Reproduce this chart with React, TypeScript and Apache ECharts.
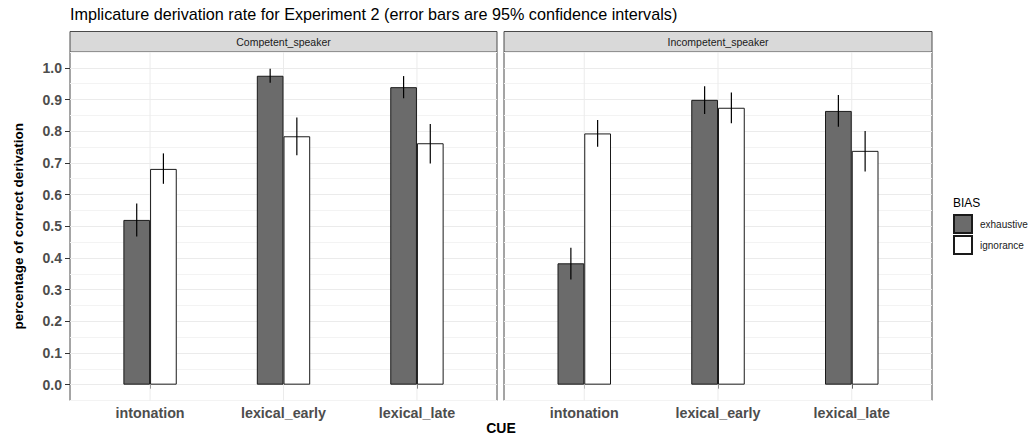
import React, { useEffect, useRef } from "react";
import * as echarts from "echarts";

const categories = ["intonation", "lexical_early", "lexical_late"];
const panels = ["Competent_speaker", "Incompetent_speaker"];
const biasLevels = ["exhaustive", "ignorance"];

const competentExhaustive = [0.52, 0.975, 0.939];
const competentExhaustiveLo = [0.468, 0.953, 0.904];
const competentExhaustiveHi = [0.572, 0.997, 0.974];
const competentIgnorance = [0.681, 0.784, 0.762];
const competentIgnoranceLo = [0.634, 0.724, 0.698];
const competentIgnoranceHi = [0.73, 0.843, 0.823];

const incompetentExhaustive = [0.383, 0.899, 0.864];
const incompetentExhaustiveLo = [0.332, 0.854, 0.814];
const incompetentExhaustiveHi = [0.432, 0.942, 0.914];
const incompetentIgnorance = [0.793, 0.874, 0.738];
const incompetentIgnoranceLo = [0.751, 0.825, 0.673];
const incompetentIgnoranceHi = [0.835, 0.922, 0.801];

const yTicks = [0, 0.1, 0.2, 0.3, 0.4, 0.5, 0.6, 0.7, 0.8, 0.9, 1.0];

const FONT = "Liberation Sans, Arial, Helvetica, sans-serif";
const Y_MIN = -0.05;
const Y_MAX = 1.05;

export default function App() {
  const ref = useRef<HTMLDivElement>(null);
  useEffect(() => {
    if (!ref.current) return;
    const chart = echarts.init(ref.current, null, { renderer: "svg" });

    const top = 52;
    const height = 348.5;
    const panelBoxes = [
      { left: 70, width: 427 },
      { left: 504, width: 428 },
    ];
    const inner = panelBoxes.map((p) => {
      const unit = p.width / 3.2;
      return { left: p.left + 0.1 * unit, width: 3 * unit, off: 0.1 * unit };
    });

    const grids: any[] = [];
    const xAxes: any[] = [];
    const yAxes: any[] = [];
    panelBoxes.forEach((p, i) => {
      grids.push({
        left: p.left, top, width: p.width, height,
        show: true, borderColor: "#4a4a4a", borderWidth: 1, backgroundColor: "#fff",
        containLabel: false,
      });
      grids.push({
        left: inner[i].left, top, width: inner[i].width, height,
        show: false, containLabel: false,
      });
      xAxes.push({ type: "value", gridIndex: 2 * i, min: 0, max: 1, show: false });
      xAxes.push({
        type: "category", gridIndex: 2 * i + 1, data: categories,
        axisLine: { show: false },
        axisTick: { show: true, alignWithLabel: true, length: 4, lineStyle: { color: "#333" } },
        axisLabel: { fontSize: 14.3, fontWeight: "bold", color: "#4d4d4d", margin: 5, fontFamily: FONT },
        splitLine: { show: false },
      });
      yAxes.push({
        type: "value", gridIndex: 2 * i, min: Y_MIN, max: Y_MAX, interval: 0.05,
        axisLine: { show: false }, axisTick: { show: false }, axisLabel: { show: false },
        splitLine: { show: true, lineStyle: { color: ["#F3F3F3", "#EBEBEB"], width: 1 } },
      });
      yAxes.push({
        type: "value", gridIndex: 2 * i + 1, min: Y_MIN, max: Y_MAX,
        offset: inner[i].off,
        axisLine: { show: false },
        axisTick: { show: i === 0, length: 5, lineStyle: { color: "#333" }, customValues: yTicks },
        axisLabel: {
          show: i === 0, customValues: yTicks, fontSize: 14, fontWeight: "bold", color: "#4d4d4d",
          margin: 8, fontFamily: FONT, formatter: (v: number) => v.toFixed(1),
        },
        splitLine: { show: false },
        name: i === 0 ? "percentage of correct derivation" : "",
        nameLocation: "middle", nameGap: 45, nameRotate: 90,
        nameTextStyle: { fontSize: 13.5, fontWeight: "bold", color: "#000", fontFamily: FONT },
      });
    });

    const exh = [competentExhaustive, incompetentExhaustive];
    const ign = [competentIgnorance, incompetentIgnorance];
    const exhLo = [competentExhaustiveLo, incompetentExhaustiveLo];
    const exhHi = [competentExhaustiveHi, incompetentExhaustiveHi];
    const ignLo = [competentIgnoranceLo, incompetentIgnoranceLo];
    const ignHi = [competentIgnoranceHi, incompetentIgnoranceHi];

    const series: any[] = [];
    panels.forEach((_, i) => {
      const xi = 2 * i + 1;
      const yi = 2 * i + 1;
      series.push({
        type: "custom", xAxisIndex: xi, yAxisIndex: yi, z: 1, silent: true,
        dimensions: ["x", "lo", "hi"], encode: { x: 0, y: [1, 2] },
        data: categories.map((_, k) => [k, Y_MIN, Y_MAX]),
        renderItem: (params: any, api: any) => {
          const a = api.coord([api.value(0), api.value(1)]);
          const b = api.coord([api.value(0), api.value(2)]);
          return { type: "line", shape: { x1: a[0], y1: a[1], x2: b[0], y2: b[1] }, style: { stroke: "#EBEBEB", lineWidth: 1 } };
        },
      });
      series.push({
        name: biasLevels[0], type: "bar", xAxisIndex: xi, yAxisIndex: yi, z: 2,
        data: exh[i], barWidth: "20%", barGap: "0%",
        itemStyle: { color: "#6b6b6b", borderColor: "#1a1a1a", borderWidth: 1 },
      });
      series.push({
        name: biasLevels[1], type: "bar", xAxisIndex: xi, yAxisIndex: yi, z: 2,
        data: ign[i], barWidth: "20%", barGap: "0%",
        itemStyle: { color: "#ffffff", borderColor: "#1a1a1a", borderWidth: 1 },
      });
      const errData: any[] = [];
      categories.forEach((_, k) => {
        errData.push([k, exhLo[i][k], exhHi[i][k], -1]);
        errData.push([k, ignLo[i][k], ignHi[i][k], 1]);
      });
      series.push({
        type: "custom", xAxisIndex: xi, yAxisIndex: yi, z: 3, silent: true,
        dimensions: ["x", "lo", "hi", "side"], encode: { x: 0, y: [1, 2] },
        data: errData,
        renderItem: (params: any, api: any) => {
          const a = api.coord([api.value(0), api.value(1)]);
          const b = api.coord([api.value(0), api.value(2)]);
          const bw = api.size([1, 0])[0];
          const dx = api.value(3) * bw * 0.1;
          return { type: "line", shape: { x1: a[0] + dx, y1: a[1], x2: b[0] + dx, y2: b[1] }, style: { stroke: "#000", lineWidth: 1.2 } };
        },
      });
    });

    const graphics: any[] = [];
    panelBoxes.forEach((p, i) => {
      graphics.push({
        type: "rect", shape: { x: p.left, y: 31.5, width: p.width, height: 20.5 },
        style: { fill: "#D9D9D9", stroke: "#4a4a4a", lineWidth: 1 }, silent: true,
      });
      graphics.push({
        type: "text", x: p.left + p.width / 2, y: 42,
        style: { text: panels[i], fill: "#1a1a1a", fontSize: 10.5, fontFamily: FONT, textAlign: "center", textVerticalAlign: "middle" },
        silent: true,
      });
    });
    graphics.push({
      type: "text", x: 501, y: 428,
      style: { text: "CUE", fill: "#000", fontSize: 14, fontWeight: "bold", fontFamily: FONT, textAlign: "center", textVerticalAlign: "middle" },
    });
    graphics.push({
      type: "text", x: 953, y: 203,
      style: { text: "BIAS", fill: "#000", fontSize: 12, fontFamily: FONT, textAlign: "left", textVerticalAlign: "middle" },
    });

    chart.setOption({
      animation: false,
      backgroundColor: "#fff",
      textStyle: { fontFamily: FONT },
      title: {
        text: "Implicature derivation rate for Experiment 2 (error bars are 95% confidence intervals)",
        left: 70, top: 6, padding: 0,
        textStyle: { fontSize: 16.2, fontWeight: "normal", color: "#000", fontFamily: FONT },
      },
      legend: {
        data: biasLevels, orient: "vertical", left: 953, top: 214, padding: 0,
        itemWidth: 18, itemHeight: 18, itemGap: 1, icon: "rect",
        textStyle: { fontSize: 10, color: "#1a1a1a", fontFamily: FONT, padding: [0, 0, 0, 3] },
        selectedMode: false,
      },
      grid: grids,
      xAxis: xAxes,
      yAxis: yAxes,
      series,
      graphic: graphics,
    });
    return () => chart.dispose();
  }, []);
  return <div ref={ref} style={{ position: "absolute", left: 0, top: 0, width: 1033, height: 438 }} />;
}
